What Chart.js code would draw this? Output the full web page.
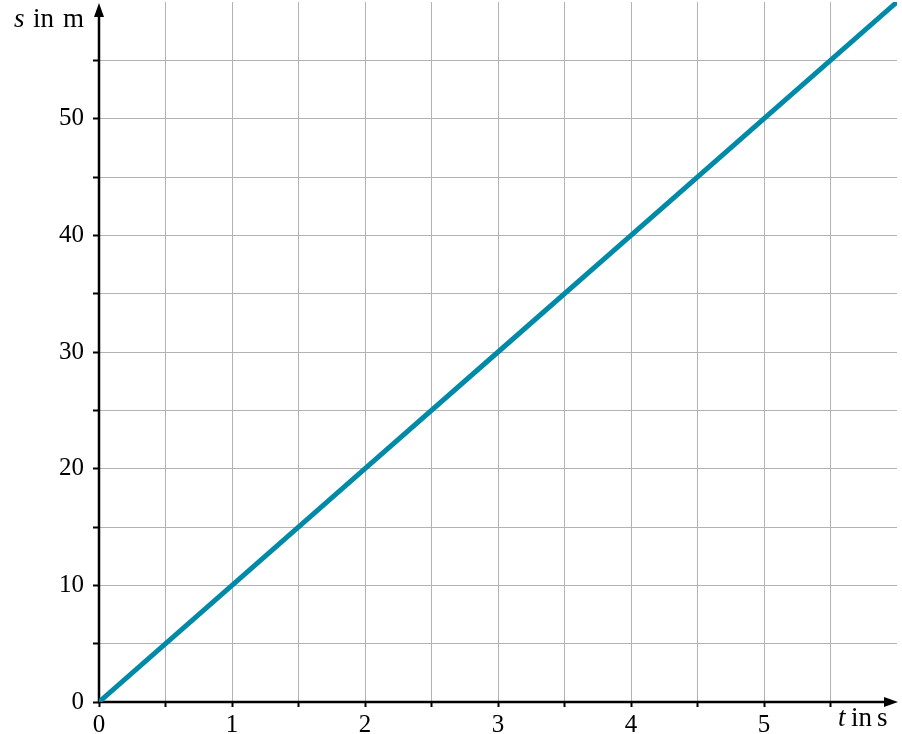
<!DOCTYPE html>
<html>
<head>
<meta charset="utf-8">
<script src="https://cdn.jsdelivr.net/npm/chart.js@4/dist/chart.umd.min.js"></script>
<style>
  body { margin: 0; background: #fff; }
  canvas { display: block; }
</style>
</head>
<body>
<canvas id="chart" width="902" height="734"></canvas>
<script>
// time in s, distance in m
const tValues = [0, 1, 2, 3, 4, 5, 6];
const sValues = [0, 10, 20, 30, 40, 50, 60];

const xMax = 6, xStep = 0.5;
const yMax = 60, yStep = 5;

const serif = '"Liberation Serif", "DejaVu Serif", serif';

// axes with arrow heads + axis titles
const axesPlugin = {
  id: 'axes',
  beforeDatasetsDraw(chart) {
    const ctx = chart.ctx;
    const a = chart.chartArea;
    const x0 = chart.scales.x.getPixelForValue(0);
    const y0 = chart.scales.y.getPixelForValue(0);
    ctx.save();
    ctx.strokeStyle = '#000';
    ctx.fillStyle = '#000';
    ctx.lineWidth = 2.5;
    ctx.beginPath();
    ctx.moveTo(x0, y0 + 1);
    ctx.lineTo(x0, a.top + 10);
    ctx.moveTo(x0 - 1, y0);
    ctx.lineTo(a.right - 8, y0);
    ctx.stroke();
    // y arrow
    ctx.beginPath();
    ctx.moveTo(x0, a.top + 1);
    ctx.lineTo(x0 - 5, a.top + 15);
    ctx.lineTo(x0 + 5, a.top + 15);
    ctx.closePath();
    ctx.fill();
    // x arrow
    ctx.beginPath();
    ctx.moveTo(a.right + 1, y0);
    ctx.lineTo(a.right - 13, y0 - 5);
    ctx.lineTo(a.right - 13, y0 + 5);
    ctx.closePath();
    ctx.fill();
    ctx.restore();
  },
  afterDraw(chart) {
    const ctx = chart.ctx;
    ctx.save();
    ctx.fillStyle = '#000';
    ctx.textBaseline = 'alphabetic';
    ctx.textAlign = 'left';
    const it = 'italic 27px ' + serif, rm = '27px ' + serif;
    // y title
    ctx.font = it; ctx.fillText('s', 14, 27);
    ctx.font = rm; ctx.fillText('in', 33, 27); ctx.fillText('m', 63, 27);
    // x title
    ctx.font = it; ctx.fillText('t', 838, 726);
    ctx.font = rm; ctx.fillText('in', 851, 726); ctx.fillText('s', 877, 726);
    ctx.restore();
  }
};

new Chart(document.getElementById('chart'), {
  type: 'line',
  data: {
    datasets: [{
      data: tValues.map((t, i) => ({ x: t, y: sValues[i] })),
      borderColor: '#008aa8',
      borderWidth: 5,
      pointRadius: 0,
      fill: false,
      tension: 0
    }]
  },
  options: {
    responsive: false,
    animation: false,
    layout: { padding: { top: 2, right: 5, left: 0, bottom: 0 } },
    plugins: {
      legend: { display: false },
      tooltip: { enabled: false }
    },
    scales: {
      x: {
        type: 'linear',
        min: 0,
        max: xMax,
        afterFit(scale) { scale.height = 32; scale.paddingRight = 0; scale.paddingLeft = 0; },
        border: { display: false },
        grid: {
          color: c => (c.tick.value === 0 || c.tick.value === xMax) ? 'rgba(0,0,0,0)' : '#b3b3b3',
          tickColor: c => c.tick.value === xMax ? 'rgba(0,0,0,0)' : '#000',
          lineWidth: 1,
          tickWidth: 2,
          tickLength: 5
        },
        ticks: {
          stepSize: xStep,
          autoSkip: false,
          maxRotation: 0,
          padding: 3,
          color: '#000',
          font: { family: serif, size: 25 },
          callback: v => (Number.isInteger(v) && v < xMax) ? String(v) : ''
        }
      },
      y: {
        min: 0,
        max: yMax,
        afterFit(scale) { scale.width = 99; scale.paddingTop = 0; scale.paddingBottom = 0; },
        border: { display: false },
        grid: {
          color: c => (c.tick.value === 0 || c.tick.value === yMax) ? 'rgba(0,0,0,0)' : '#b3b3b3',
          tickColor: c => c.tick.value === yMax ? 'rgba(0,0,0,0)' : '#000',
          lineWidth: 1,
          tickWidth: 2,
          tickLength: 6
        },
        ticks: {
          stepSize: yStep,
          autoSkip: false,
          padding: 9,
          color: '#000',
          font: { family: serif, size: 25 },
          callback: v => (v % 10 === 0 && v < yMax) ? String(v) : ''
        }
      }
    }
  },
  plugins: [axesPlugin]
});
</script>
</body>
</html>
